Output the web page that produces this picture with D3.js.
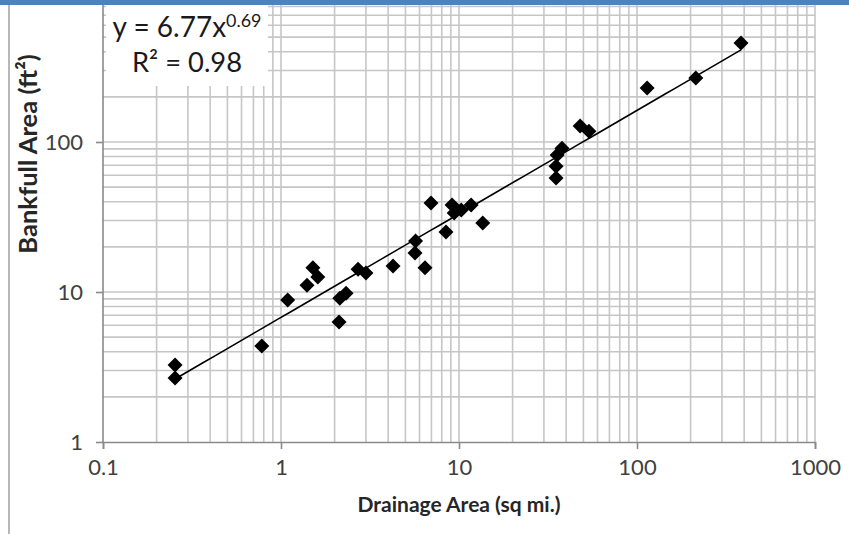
<!DOCTYPE html>
<html><head><meta charset="utf-8">
<script src="https://cdn.jsdelivr.net/npm/d3@7"></script>
<style>body{margin:0;background:#fff} svg{display:block}
.tick text{font-family:Lato,'Open Sans',sans-serif;font-size:22px;fill:#404040}</style>
</head><body>
<svg id="c" width="849" height="534"></svg>
<script>
// ---- data ----
const drainageArea = [0.254, 0.254, 0.78, 1.09, 1.40, 1.51, 1.61, 2.12, 2.14, 2.32, 2.71, 3.0, 4.26, 5.66, 5.7, 6.44, 6.96, 8.45, 9.14, 9.4, 10.3, 11.7, 13.6, 35.1, 35.1, 35.6, 37.9, 47.9, 53.7, 114, 214, 384];
const bankfullArea = [3.26, 2.67, 4.36, 8.85, 11.1, 14.5, 12.6, 6.3, 9.1, 9.8, 14.2, 13.4, 14.9, 18.2, 21.9, 14.5, 39.2, 25.1, 38, 33.6, 35.2, 38, 28.8, 57.5, 69, 82, 91, 128, 118, 229, 267, 457];
const xTickValues = [0.1, 1, 10, 100, 1000];
const xTickLabels = ["0.1", "1", "10", "100", "1000"];
const yTickValues = [1, 10, 100];
const yTickLabels = ["1", "10", "100"];
const fitCoef = 6.77, fitExp = 0.69, fitR2 = "0.98";
const xTitle = "Drainage Area (sq mi.)";
const yTitle = "Bankfull Area  (ft²)";

const svg = d3.select("#c");
const FONT = "Lato, 'Open Sans', sans-serif";
const left = 103, right = 815, bottom = 442;
const x = d3.scaleLog().domain([0.1, 1000]).range([left, right]);
const y = d3.scaleLog().domain([1, 1000]).range([bottom, bottom - 450]);

function fitWidth(sel, target) {
  const node = sel.node();
  const fs = parseFloat(sel.style("font-size"));
  const w = node.getBBox().width;
  const nf = w > 0 ? fs * target / w : fs;
  sel.style("font-size", nf.toFixed(2) + "px");
  return nf;
}

function logGrid(lo, hi) {
  const out = [];
  for (let d = lo; d < hi; d *= 10) for (let m = 1; m <= 9; m++) out.push(d * m);
  out.push(hi);
  return out;
}
const gx = logGrid(0.1, 1000), gy = logGrid(1, 1000);
const grid = svg.append("g").attr("stroke", "#c6c6c6").attr("stroke-width", 1.6);
grid.selectAll("line.vx").data(gx.slice(1)).join("line")
  .attr("x1", d => x(d)).attr("x2", d => x(d)).attr("y1", y(1000)).attr("y2", bottom);
grid.selectAll("line.hy").data(gy.slice(1)).join("line")
  .attr("x1", left).attr("x2", right).attr("y1", d => y(d)).attr("y2", d => y(d));

svg.append("line").attr("x1", 9).attr("x2", 9).attr("y1", 0).attr("y2", 534)
  .attr("stroke", "#a0a0a0").attr("stroke-width", 1.5);

// axes
const xAxis = d3.axisBottom(x).tickValues(xTickValues).tickFormat((d, i) => xTickLabels[i]).tickSizeOuter(0).tickSize(7).tickPadding(10);
const yAxis = d3.axisLeft(y).tickValues(yTickValues).tickFormat((d, i) => yTickLabels[i]).tickSizeOuter(0).tickSize(7).tickPadding(13);
const gxA = svg.append("g").attr("transform", `translate(0,${bottom})`).call(xAxis);
const gyA = svg.append("g").attr("transform", `translate(${left},0)`).call(yAxis);
[gxA, gyA].forEach(g => {
  g.attr("font-family", null).attr("font-size", null);
  g.select(".domain").attr("stroke", "#8a8a8a").attr("stroke-width", 1.6);
  g.selectAll(".tick line").attr("stroke", "#8a8a8a").attr("stroke-width", 1.6);
  g.selectAll(".tick text").attr("fill", null);
});
gyA.select(".domain").attr("d", `M0,${bottom}V${y(1000)}`);
gxA.selectAll(".tick text").attr("dy", "0.71em");

// trendline
const xMin = d3.min(drainageArea), xMax = d3.max(drainageArea);
const fitPts = d3.range(0, 61).map(i => {
  const v = Math.exp(Math.log(xMin) + (Math.log(xMax) - Math.log(xMin)) * i / 60);
  return [v, fitCoef * Math.pow(v, fitExp)];
});
svg.append("path").datum(fitPts)
  .attr("d", d3.line().x(d => x(d[0])).y(d => y(d[1])))
  .attr("fill", "none").attr("stroke", "#000").attr("stroke-width", 1.6);

// points
const r = 7.5;
svg.append("g").selectAll("path").data(drainageArea.map((d, i) => [d, bankfullArea[i]])).join("path")
  .attr("transform", d => `translate(${x(d[0])},${y(d[1])})`)
  .attr("d", `M0,${-r}L${r},0L0,${r}L${-r},0Z`).attr("fill", "#000");

// equation box
svg.append("rect").attr("x", 106).attr("y", 0).attr("width", 162).attr("height", 86).attr("fill", "#fff");
const eq = svg.append("text").attr("x", 187).attr("y", 37).attr("text-anchor", "middle")
  .style("font-family", FONT).style("font-size", "22px").attr("fill", "#1a1a1a");
eq.append("tspan").text(`y = ${fitCoef}x`);
eq.append("tspan").attr("dy", -10).style("font-size", "0.64em").text(String(fitExp));
fitWidth(eq, 149);
const eq2 = svg.append("text").attr("x", 187).attr("y", 72).attr("text-anchor", "middle")
  .style("font-family", FONT).style("font-size", "22px").attr("fill", "#1a1a1a");
eq2.append("tspan").text("R² = " + fitR2);
fitWidth(eq2, 110);

// titles
const xt = svg.append("text").attr("x", (left + right) / 2).attr("y", 512).attr("text-anchor", "middle")
  .style("font-family", FONT).style("font-weight", "bold").style("font-size", "18px").attr("fill", "#262626")
  .text(xTitle);
fitWidth(xt, 203);
const yt = svg.append("text").attr("transform", "translate(37,154) rotate(-90)").attr("text-anchor", "middle")
  .style("font-family", FONT).style("font-weight", "bold").style("font-size", "17px").attr("fill", "#262626")
  .text(yTitle);
fitWidth(yt, 200);

svg.append("rect").attr("x", 0).attr("y", 0).attr("width", 849).attr("height", 5).attr("fill", "#4f81bd");
</script>
</body></html>
